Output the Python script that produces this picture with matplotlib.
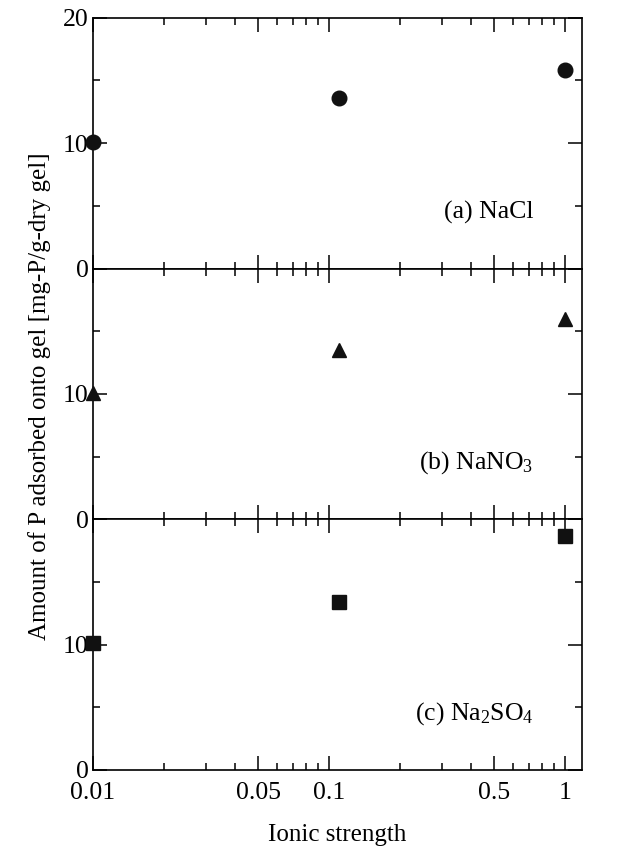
import matplotlib
matplotlib.use("Agg")
import matplotlib.pyplot as plt
from matplotlib.ticker import FixedLocator, NullFormatter

plt.rcParams['font.family'] = ['Liberation Serif', 'DejaVu Serif']
plt.rcParams['mathtext.fontset'] = 'custom'
plt.rcParams['mathtext.rm'] = 'Liberation Serif'
plt.rcParams['mathtext.it'] = 'Liberation Serif:italic'
plt.rcParams['mathtext.default'] = 'regular'

# data
ionic = [0.01, 0.11, 1.0]
nacl = [10.1, 13.6, 15.8]
nano3 = [10.1, 13.5, 16.0]
na2so4 = [10.1, 13.4, 18.7]

panel_labels = ['(a) NaCl', r'(b) NaNO$_3$', r'(c) Na$_2$SO$_4$']
markers = ['o', '^', 's']
msizes = [10.5, 10.5, 9.5]
series = [nacl, nano3, na2so4]

xmajor = [0.01, 0.05, 0.1, 0.5, 1]
xmajor_labels = ['0.01', '0.05', '0.1', '0.5', '1']
xminor = [0.02, 0.03, 0.04, 0.06, 0.07, 0.08, 0.09,
          0.2, 0.3, 0.4, 0.6, 0.7, 0.8, 0.9]

fig = plt.figure(figsize=(6.24, 8.48), dpi=100)
fig.subplots_adjust(left=0.149, right=0.933, top=0.979, bottom=0.092, hspace=0)
axes = fig.subplots(3, 1, sharex=True)

for i, ax in enumerate(axes):
    ax.plot(ionic, series[i], linestyle='none', marker=markers[i], color='#111111',
            markersize=msizes[i], clip_on=False, zorder=5)
    ax.set_xscale('log')
    ax.set_xlim(0.01, 1.18)
    ax.set_ylim(0, 20)
    ax.xaxis.set_major_locator(FixedLocator(xmajor))
    ax.xaxis.set_minor_locator(FixedLocator(xminor))
    ax.xaxis.set_minor_formatter(NullFormatter())
    ax.set_yticks([0, 10, 20])
    ax.set_yticks([5, 15], minor=True)
    if i == 0:
        ax.set_yticklabels(['0', '10', '20'])
    else:
        ax.set_yticklabels(['0', '10', ''])
    ax.tick_params(which='both', direction='in', top=True, right=True,
                   width=1.1, labelsize=18.5)
    ax.tick_params(axis='y', pad=3)
    ax.tick_params(axis='x', pad=9)
    ax.tick_params(which='major', length=10)
    ax.tick_params(which='minor', length=5)
    for s in ax.spines.values():
        s.set_linewidth(1.2)
    ax.text(0.90, 0.225, panel_labels[i], transform=ax.transAxes,
            ha='right', va='center', fontsize=18.5)

axes[2].set_xticklabels(xmajor_labels)
axes[2].set_xlabel('Ionic strength', fontsize=18, labelpad=14)
fig.text(0.063, 0.533, 'Amount of P adsorbed onto gel [mg-P/g-dry gel]',
         rotation=90, ha='center', va='center', fontsize=18)

fig.savefig('out.png', dpi=100)
